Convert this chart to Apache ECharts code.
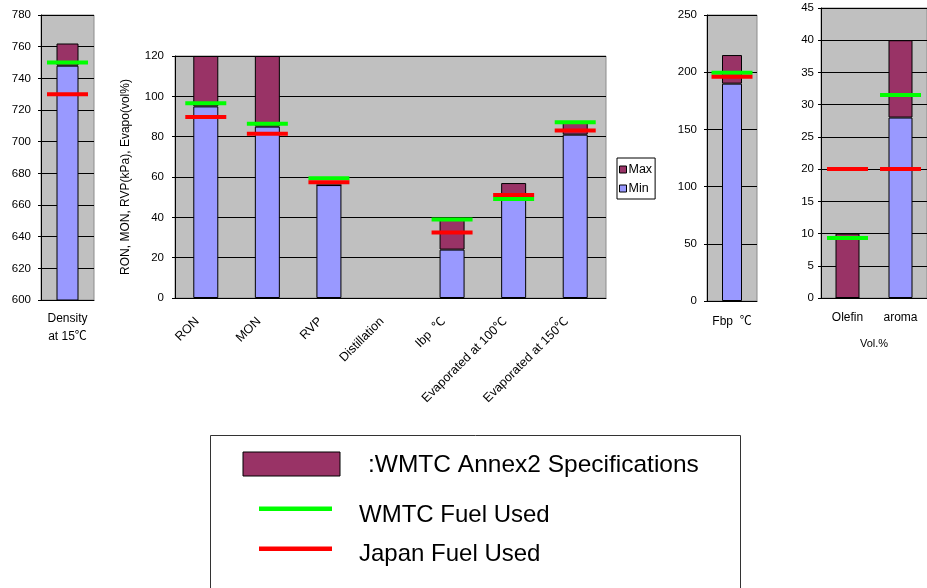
<!DOCTYPE html>
<html>
<head>
<meta charset="utf-8">
<script src="https://cdn.jsdelivr.net/npm/echarts@6/dist/echarts.min.js"></script>
<style>html,body{margin:0;padding:0;background:#fff;}#c{width:927px;height:588px;}</style>
</head>
<body>
<div id="c"></div>
<script>
// ---- Data ----
const densityCats = ['Density\nat 15℃'];
const densityMin = [748];
const densityMax = [762];
const densityWmtc = [750];
const densityJapan = [730];

const mainCats = ['RON', 'MON', 'RVP', 'Distillation', 'Ibp  ℃', 'Evaporated at 100℃', 'Evaporated at 150℃'];
const mainMin = [95, 85, 56, null, 24, 50, 81];
const mainMax = [120, 120, 56, null, 40, 57, 87];
const mainWmtc = [96.6, 86.4, 59.4, null, 38.9, 49.1, 87.2];
const mainJapan = [89.8, 81.5, 57.4, null, 32.5, 51.1, 83.1];

const fbpCats = ['Fbp  ℃'];
const fbpMin = [190];
const fbpMax = [215];
const fbpWmtc = [199.5];
const fbpJapan = [196];

const volCats = ['Olefin', 'aroma'];
const volMin = [0, 28];
const volMax = [10, 40];
const volWmtc = [9.3, 31.5];
const volJapan = [20, 20];

// ---- Styles ----
const FONT = "'Liberation Sans', Arial, 'Noto Sans CJK JP', sans-serif";
const MAROON = '#993366';
const LAVENDER = '#9999FF';
const GREEN = '#00FF00';
const RED = '#FF0000';

const panels = [
  {cats: densityCats, min: densityMin, max: densityMax, wmtc: densityWmtc, japan: densityJapan,
   grid: {left: 41, top: 15, width: 53, height: 285}, ymin: 600, ymax: 780, interval: 20, barWidth: 22, ymargin: 10, xmargin: 10},
  {cats: mainCats, min: mainMin, max: mainMax, wmtc: mainWmtc, japan: mainJapan,
   grid: {left: 175, top: 56, width: 431, height: 242}, ymin: 0, ymax: 120, interval: 20, barWidth: 25, ymargin: 11, xmargin: 13, rotate: 45,
   labelPad: [0, 12, 0, 0], labelSize: 12.5,
   yname: 'RON, MON, RVP(kPa), Evapo(vol%)'},
  {cats: fbpCats, min: fbpMin, max: fbpMax, wmtc: fbpWmtc, japan: fbpJapan,
   grid: {left: 707, top: 15, width: 50, height: 286}, ymin: 0, ymax: 250, interval: 50, barWidth: 20, ymargin: 10, xmargin: 12},
  {cats: volCats, min: volMin, max: volMax, wmtc: volWmtc, japan: volJapan,
   grid: {left: 821, top: 8, width: 116, height: 290}, ymin: 0, ymax: 45, interval: 5, barWidth: 24, ymargin: 7, xmargin: 11,
   xname: 'Vol.%'}
];

const grids = [], xAxes = [], yAxes = [], series = [];
panels.forEach((p, i) => {
  grids.push(Object.assign({show: true, backgroundColor: '#C0C0C0', borderColor: '#8c8c8c', borderWidth: 1, containLabel: false}, p.grid));
  xAxes.push({
    type: 'category', gridIndex: i, data: p.cats,
    axisLine: {lineStyle: {color: '#000', width: 1}},
    axisTick: {inside: true, length: 4, lineStyle: {color: '#000'}},
    axisLabel: {color: '#000', fontSize: p.labelSize || 12, fontFamily: FONT, margin: p.xmargin, rotate: p.rotate || 0,
                lineHeight: 18, interval: 0, padding: p.labelPad || 0},
    name: p.xname || '', nameLocation: 'middle', nameGap: 40,
    nameTextStyle: {color: '#000', fontSize: 11, fontFamily: FONT}
  });
  yAxes.push({
    type: 'value', gridIndex: i, min: p.ymin, max: p.ymax, interval: p.interval,
    axisLine: {show: true, lineStyle: {color: '#000', width: 1}},
    axisTick: {show: true, length: 3, lineStyle: {color: '#000'}},
    axisLabel: {color: '#000', fontSize: 11.5, fontFamily: FONT, margin: p.ymargin},
    splitLine: {show: true, lineStyle: {color: '#000', width: 1}},
    name: p.yname || '', nameLocation: 'middle', nameGap: 43, nameRotate: 90,
    nameTextStyle: {color: '#000', fontSize: 12, fontFamily: FONT}
  });
  series.push({
    name: 'Min', type: 'bar', xAxisIndex: i, yAxisIndex: i, stack: 's' + i,
    barWidth: p.barWidth, data: p.min,
    itemStyle: {color: LAVENDER, borderColor: '#000', borderWidth: 1}
  });
  series.push({
    name: 'Max', type: 'bar', xAxisIndex: i, yAxisIndex: i, stack: 's' + i,
    barWidth: p.barWidth,
    data: p.max.map((v, k) => (v == null || p.min[k] == null) ? null : v - p.min[k]),
    itemStyle: {color: MAROON, borderColor: '#000', borderWidth: 1}
  });
  series.push({
    name: 'WMTC Fuel Used', type: 'scatter', xAxisIndex: i, yAxisIndex: i,
    symbol: 'rect', symbolSize: [41, 4], data: p.wmtc, z: 5,
    itemStyle: {color: GREEN, opacity: 1}, silent: true
  });
  series.push({
    name: 'Japan Fuel Used', type: 'scatter', xAxisIndex: i, yAxisIndex: i,
    symbol: 'rect', symbolSize: [41, 4], data: p.japan, z: 5,
    itemStyle: {color: RED, opacity: 1}, silent: true
  });
});

const option = {
  animation: false,
  backgroundColor: '#fff',
  textStyle: {fontFamily: FONT},
  grid: grids, xAxis: xAxes, yAxis: yAxes, series: series,
  legend: {
    data: ['Max', 'Min'], orient: 'vertical', left: 617, top: 158,
    backgroundColor: '#fff', borderColor: '#000', borderWidth: 1,
    padding: [4, 3, 3, 2], itemGap: 4, itemWidth: 7, itemHeight: 7, icon: 'rect',
    itemStyle: {borderColor: '#000', borderWidth: 1},
    textStyle: {color: '#000', fontSize: 12.5, fontFamily: FONT, padding: [0, 0, 0, -3], lineHeight: 15},
    selectedMode: false
  },
  graphic: [
    {type: 'rect', shape: {x: 210.5, y: 435.5, width: 530, height: 200}, style: {fill: '#fff', stroke: '#333', lineWidth: 1}},
    {type: 'rect', shape: {x: 243, y: 452, width: 97, height: 24}, style: {fill: MAROON, stroke: '#000', lineWidth: 1}},
    {type: 'text', x: 368, y: 465, style: {text: ':WMTC Annex2 Specifications', font: '24.5px ' + FONT, fill: '#000', verticalAlign: 'middle'}},
    {type: 'rect', shape: {x: 259, y: 506.5, width: 73, height: 4.5}, style: {fill: GREEN}},
    {type: 'text', x: 359, y: 515, style: {text: 'WMTC Fuel Used', font: '24px ' + FONT, fill: '#000', verticalAlign: 'middle'}},
    {type: 'rect', shape: {x: 259, y: 546.5, width: 73, height: 4.5}, style: {fill: RED}},
    {type: 'text', x: 359, y: 554, style: {text: 'Japan Fuel Used', font: '24px ' + FONT, fill: '#000', verticalAlign: 'middle'}}
  ]
};

const chart = echarts.init(document.getElementById('c'), null, {renderer: 'canvas'});
chart.setOption(option);
</script>
</body>
</html>
